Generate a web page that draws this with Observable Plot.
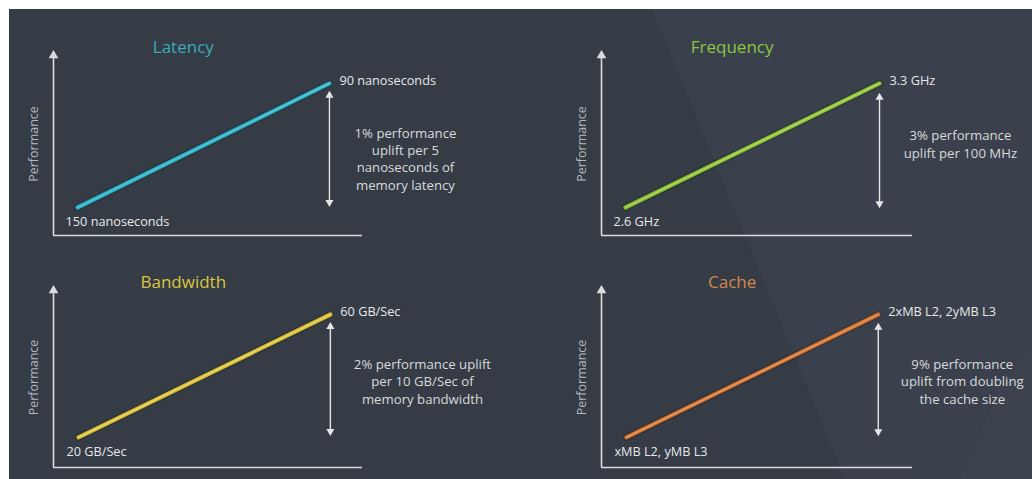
<!DOCTYPE html>
<html><head><meta charset="utf-8">
<script src="https://cdn.jsdelivr.net/npm/d3@7"></script>
<script src="https://cdn.jsdelivr.net/npm/@observablehq/plot@0.6"></script>
<style>
html,body{margin:0;padding:0;background:#fff;width:1032px;height:479px;overflow:hidden;font-family:"Open Sans",sans-serif;}
#bg{position:absolute;left:9px;top:9px;right:0;bottom:0;background:#353c46;}
#bg2{position:absolute;left:0;top:9px;right:0;bottom:0;background:#3a414c;clip-path:polygon(652px 0,100% 0,100% 100%,845px 100%);}
#bg3{position:absolute;left:0;top:9px;right:0;bottom:0;background:#3c434e;clip-path:polygon(1000px 380px,100% 330px,100% 100%,960px 100%);}
.panel{position:absolute;}
.panel svg{overflow:visible;}
</style></head><body>
<div id="bg"></div><div id="bg2"></div><div id="bg3"></div>
<div id="p0" class="panel"></div>
<div id="p1" class="panel"></div>
<div id="p2" class="panel"></div>
<div id="p3" class="panel"></div>
<script>
// ---- data ----
const categories = ["Latency", "Frequency", "Bandwidth", "Cache"];
const startLabels = ["150 nanoseconds", "2.6 GHz", "20 GB/Sec", "xMB L2, yMB L3"];
const endLabels = ["90 nanoseconds", "3.3 GHz", "60 GB/Sec", "2xMB L2, 2yMB L3"];
const notes = [
  "1% performance\nuplift per 5\nnanoseconds of\nmemory latency",
  "3% performance\nuplift per 100 MHz",
  "2% performance uplift\nper 10 GB/Sec of\nmemory bandwidth",
  "9% performance\nuplift from doubling\nthe cache size"
];
// normalized setting (x) and performance (y) values
const settingStart = [0.078, 0.077, 0.081, 0.08];
const settingEnd = [0.893, 0.894, 0.896, 0.89];
const perfStart = [0.153, 0.153, 0.167, 0.167];
const perfEnd = [0.831, 0.831, 0.85, 0.85];
const upliftLow = [0.17, 0.164, 0.19, 0.189];
const upliftHigh = [0.776, 0.765, 0.794, 0.789];

// ---- styles / layout ----
const lineColors = ["#2cadc2", "#86bb30", "#d2b82c", "#d06d2c"];
const lineCores = ["#6ad3e0", "#c2e57a", "#f3e48a", "#f0ab70"];
const titleColors = ["#3aaabd", "#8dc641", "#d9c43e", "#d3884a"];
const layout = [
  {left: 0,   top: 0,   width: 516, height: 240, ml: 53, mr: 154, mt: 52, mb: 5},
  {left: 548, top: 0,   width: 484, height: 240, ml: 53, mr: 120, mt: 52, mb: 5},
  {left: 0,   top: 240, width: 516, height: 239, ml: 53, mr: 154, mt: 47, mb: 12},
  {left: 548, top: 240, width: 484, height: 239, ml: 53, mr: 120, mt: 47, mb: 12}
];
const noteX = [1.139, 1.154, 1.194, 1.16];
const noteY = [0.423, 0.503, 0.483, 0.483];
const axisColor = "#d9dcdf";
const font = "Open Sans, sans-serif";

categories.forEach((cat, i) => {
  const L = layout[i];
  const seg = [{x: settingStart[i], y: perfStart[i]}, {x: settingEnd[i], y: perfEnd[i]}];
  const up = [{x: settingEnd[i], y: upliftLow[i]}, {x: settingEnd[i], y: upliftHigh[i]}];
  const chart = Plot.plot({
    width: L.width, height: L.height,
    marginLeft: L.ml, marginRight: L.mr, marginTop: L.mt, marginBottom: L.mb,
    x: {domain: [0, 1], axis: null},
    y: {domain: [0, 1], axis: null},
    style: {background: "transparent", fontFamily: font, overflow: "visible"},
    marks: [
      // axes
      Plot.ruleY([0], {x1: 0, x2: 1, stroke: axisColor, strokeWidth: 1.6}),
      Plot.ruleX([0], {y1: 0, y2: 1, stroke: axisColor, strokeWidth: 1.6}),
      Plot.dot([{x: 0, y: 1}], {x: "x", y: "y", symbol: "triangle", r: 3.6, fill: axisColor, stroke: "none", dy: 3}),
      Plot.text([cat], {frameAnchor: "left", text: () => "Performance", rotate: -90, dx: -20, textAnchor: "middle", fill: "#b4b9bf", fontSize: 12.5}),
      // title
      Plot.text([cat], {x: 0.42, frameAnchor: "top", text: d => d, dy: -5, lineAnchor: "middle", textAnchor: "middle", fill: titleColors[i], fontSize: 17}),
      // performance line
      Plot.line(seg, {x: "x", y: "y", stroke: "#1d232b", strokeWidth: 6.5, strokeOpacity: 0.5}),
      Plot.line(seg, {x: "x", y: "y", stroke: lineColors[i], strokeWidth: 4.2}),
      Plot.line(seg, {x: "x", y: "y", stroke: lineCores[i], strokeWidth: 1.3, strokeOpacity: 0.8}),
      // value labels
      Plot.text([seg[0]], {x: "x", y: "y", text: () => startLabels[i], textAnchor: "start", dx: -12, dy: 14, fill: "#e6e8ea", fontSize: 12.7}),
      Plot.text([seg[1]], {x: "x", y: "y", text: () => endLabels[i], textAnchor: "start", dx: 10, dy: -3, fill: "#e6e8ea", fontSize: 12.7}),
      // uplift double arrow
      Plot.line(up, {x: "x", y: "y", stroke: "#e4e6e8", strokeWidth: 1.4}),
      Plot.dot([up[1]], {x: "x", y: "y", symbol: "triangle", r: 3, fill: "#e4e6e8", dy: 2}),
      Plot.dot([up[0]], {x: "x", y: "y", symbol: "triangle", r: 3, fill: "#e4e6e8", rotate: 180, dy: -2}),
      // note
      Plot.text([notes[i]], {x: noteX[i], y: noteY[i], text: d => d, textAnchor: "middle", lineAnchor: "middle", lineHeight: 1.32, fill: "#d8dadc", fontSize: 13.2})
    ]
  });
  const host = document.getElementById("p" + i);
  host.style.left = L.left + "px";
  host.style.top = L.top + "px";
  host.appendChild(chart);
});
</script>
</body></html>
